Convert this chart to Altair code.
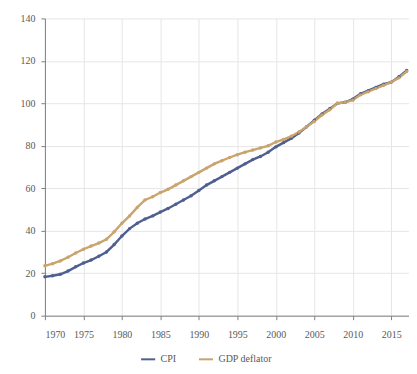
import altair as alt
import pandas as pd

years = list(range(1970, 2018))
cpi = [18.3, 18.8, 19.5, 21.0, 23.0, 24.8, 26.2, 28.0, 30.0, 33.5,
       37.5, 41.0, 43.5, 45.5, 47.0, 48.8, 50.5, 52.5, 54.5, 56.5,
       59.0, 61.5, 63.5, 65.5, 67.5, 69.5, 71.5, 73.5, 75.0, 77.0,
       79.5, 81.5, 83.5, 86.0, 89.0, 92.0, 95.0, 97.5, 100.0, 100.5,
       102.0, 104.5, 106.0, 107.5, 109.0, 110.0, 112.5, 115.5]
gdp_deflator = [23.5, 24.5, 25.8, 27.5, 29.5, 31.3, 32.8, 34.2, 36.0, 39.5,
                43.5, 47.0, 51.0, 54.5, 56.0, 58.0, 59.5, 61.5, 63.5, 65.5,
                67.5, 69.5, 71.5, 73.0, 74.5, 75.8, 77.0, 78.0, 79.0, 80.0,
                81.8, 83.0, 84.5, 86.5, 89.0, 91.5, 94.5, 97.0, 100.0, 100.5,
                101.5, 104.0, 105.5, 107.0, 108.5, 110.0, 112.0, 115.0]
series_names = ["CPI", "GDP deflator"]
series_colors = ["#4f5f8f", "#c9a46e"]
x_ticks = [1970, 1975, 1980, 1985, 1990, 1995, 2000, 2005, 2010, 2015]
y_ticks = [0, 20, 40, 60, 80, 100, 120, 140]

df = pd.concat([
    pd.DataFrame({"year": years, "value": cpi, "series": series_names[0]}),
    pd.DataFrame({"year": years, "value": gdp_deflator, "series": series_names[1]}),
])

font = "Liberation Serif"

chart = alt.Chart(df).mark_line(
    strokeWidth=2.4, point=alt.OverlayMarkDef(size=12, filled=True)
).encode(
    x=alt.X("year:Q", title=None,
            scale=alt.Scale(domain=[1970, 2017.3], nice=False, zero=False),
            axis=alt.Axis(values=x_ticks, format="d", labelFont=font, labelFontSize=10,
                          labelColor="#595959", domainColor="#808080", tickColor="#808080",
                          tickSize=4, gridColor="#e6e6e6", labelPadding=10)),
    y=alt.Y("value:Q", title=None,
            scale=alt.Scale(domain=[0, 140], nice=False),
            axis=alt.Axis(values=y_ticks, labelFont=font, labelFontSize=10,
                          labelColor="#595959", domainColor="#808080", tickColor="#808080",
                          tickSize=4, gridColor="#e6e6e6", labelPadding=6)),
    color=alt.Color("series:N", title=None,
                    scale=alt.Scale(domain=series_names, range=series_colors),
                    legend=alt.Legend(orient="none", direction="horizontal",
                                      legendX=95, legendY=333,
                                      labelFont=font, labelFontSize=10, labelColor="#595959",
                                      symbolType="stroke", symbolStrokeWidth=2,
                                      symbolSize=200, columnPadding=18)),
).properties(
    width=365, height=298,
    autosize=alt.AutoSizeParams(type="none"),
    padding={"left": 37, "top": 10, "right": 0, "bottom": 50},
).configure_view(stroke=None)

chart.save("out.html", embed_options={"renderer": "svg", "actions": False})
